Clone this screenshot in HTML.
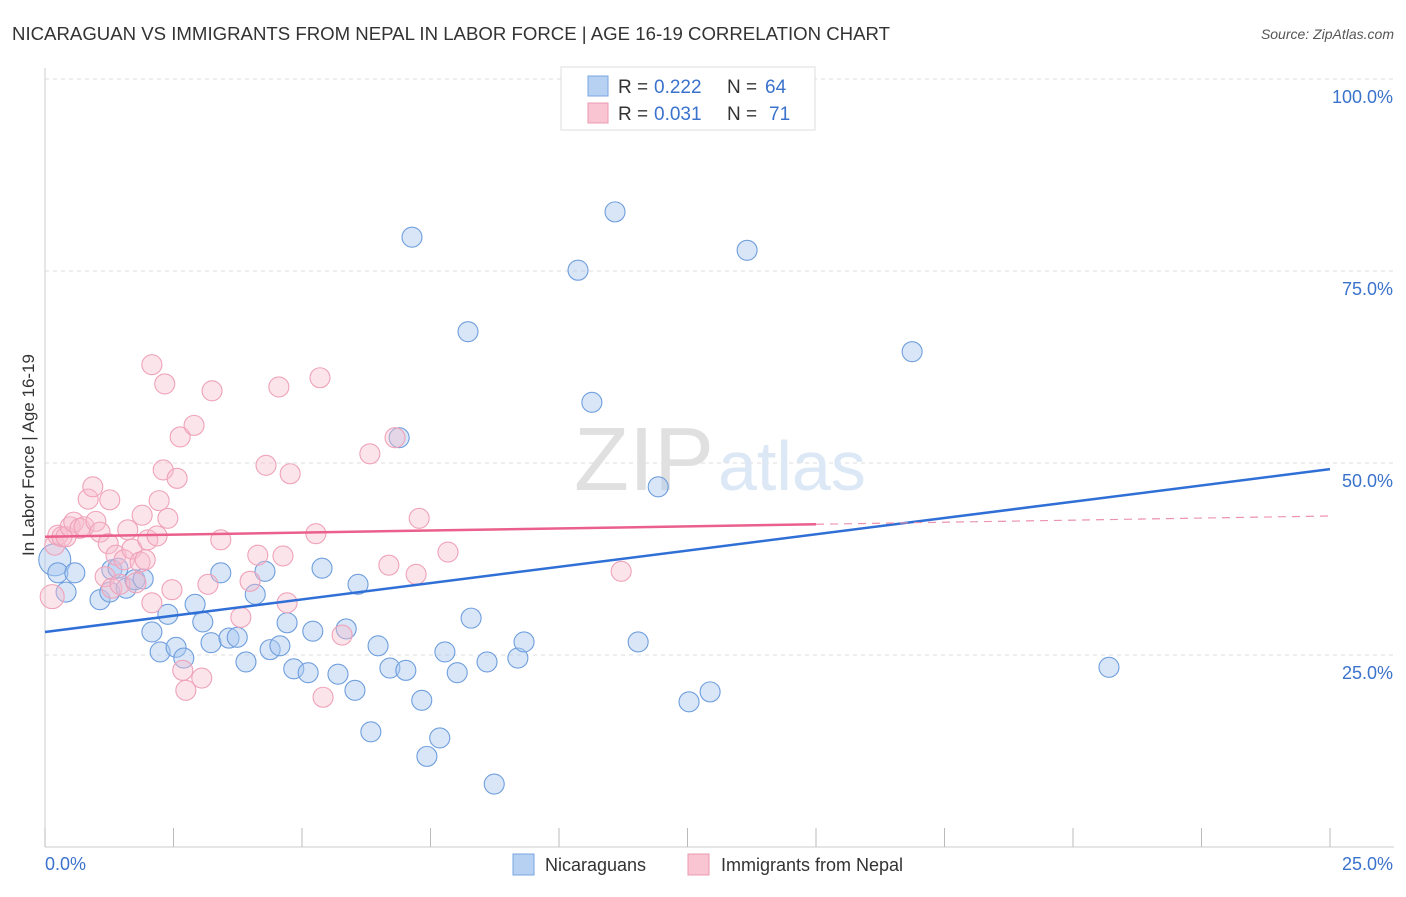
<!DOCTYPE html>
<html><head><meta charset="utf-8"><style>
body{margin:0;background:#fff;font-family:"Liberation Sans",sans-serif;}
svg text{font-family:"Liberation Sans",sans-serif;}
</style></head><body>
<svg width="1406" height="892" viewBox="0 0 1406 892">
<text x="12" y="40" font-size="18" fill="#333" textLength="878" lengthAdjust="spacingAndGlyphs">NICARAGUAN VS IMMIGRANTS FROM NEPAL IN LABOR FORCE | AGE 16-19 CORRELATION CHART</text>
<text x="1394" y="39" font-size="14" fill="#555" font-style="italic" text-anchor="end">Source: ZipAtlas.com</text>
<g id="grid"></g>
<text x="714" y="490" font-size="90" fill="#e0e0e0" text-anchor="end" font-family="Liberation Serif">ZIP</text>
<text x="718" y="490" font-size="70" fill="#dce8f6">atlas</text>
<g id="pts"></g>
<g id="lines"></g>
<text transform="translate(34,455) rotate(-90)" font-size="17" fill="#333" text-anchor="middle">In Labor Force | Age 16-19</text>
<g>
<rect x="561" y="67" width="254" height="63" fill="#fff" stroke="#ddd"/>
<rect x="588" y="76" width="20" height="20" fill="#b7d1f3" stroke="#7aa6e0"/>
<rect x="588" y="103" width="20" height="20" fill="#f9c5d3" stroke="#eb98b0"/>
<text x="618" y="93" font-size="19" fill="#333">R =</text>
<text x="654" y="93" font-size="19" fill="#3a72cc">0.222</text>
<text x="727" y="93" font-size="19" fill="#333">N =</text>
<text x="765" y="93" font-size="19" fill="#3a72cc">64</text>
<text x="618" y="120" font-size="19" fill="#333">R =</text>
<text x="654" y="120" font-size="19" fill="#3a72cc">0.031</text>
<text x="727" y="120" font-size="19" fill="#333">N =</text>
<text x="769" y="120" font-size="19" fill="#3a72cc">71</text>
</g>
<g>
<rect x="513" y="854" width="21" height="21" fill="#b7d1f3" stroke="#7aa6e0"/>
<text x="545" y="871" font-size="18" fill="#333">Nicaraguans</text>
<rect x="688" y="854" width="21" height="21" fill="#f9c5d3" stroke="#eb98b0"/>
<text x="721" y="871" font-size="18" fill="#333">Immigrants from Nepal</text>
</g>
</svg>
<script>
const xTicks=[0,2.5,5,7.5,10,12.5,15,17.5,20,22.5,25];
const yTicks=[25,50,75,100];
const yTickLabels=["25.0%","50.0%","75.0%","100.0%"];
const blueX=[0.19,0.25,0.41,0.58,1.07,1.26,1.30,1.42,1.58,1.75,1.91,2.08,2.24,2.39,2.55,2.70,2.92,3.07,3.23,3.42,3.58,3.74,3.91,4.09,4.28,4.38,4.57,4.71,4.84,5.12,5.21,5.39,5.70,5.86,6.03,6.09,6.34,6.48,6.71,6.89,7.02,7.14,7.33,7.43,7.68,7.78,8.02,8.23,8.29,8.60,9.20,9.32,10.37,10.64,11.09,11.54,11.93,12.53,12.94,13.66,16.87,20.70,8.74];
const blueY=[37.4,35.7,33.2,35.7,32.2,33.2,36.1,36.3,33.7,34.8,34.9,28.0,25.4,30.3,26.0,24.6,31.6,29.3,26.6,35.7,27.2,27.3,24.1,32.9,35.9,25.7,26.2,29.2,23.2,22.7,28.1,36.3,22.5,28.4,20.4,34.2,15.0,26.2,23.3,53.3,23.0,79.4,19.1,11.8,14.2,25.4,22.7,67.1,29.8,24.1,24.6,26.7,75.1,57.9,82.7,26.7,46.9,18.9,20.2,77.7,64.5,23.4,8.2];
const pinkX=[0.14,0.19,0.25,0.33,0.41,0.49,0.56,0.68,0.76,0.84,0.93,0.99,1.07,1.17,1.23,1.26,1.30,1.38,1.46,1.54,1.61,1.69,1.77,1.85,1.89,1.95,2.00,2.08,2.08,2.18,2.22,2.30,2.33,2.39,2.47,2.57,2.63,2.68,2.74,2.90,3.05,3.17,3.25,3.42,3.81,3.99,4.14,4.30,4.55,4.63,4.71,4.77,5.27,5.35,5.41,5.78,6.32,6.69,6.81,7.22,7.28,7.84,11.21];
const pinkY=[32.6,39.3,40.6,40.4,40.4,41.7,42.3,41.5,41.7,45.3,46.9,42.4,41.0,35.2,39.5,45.2,33.7,38.0,34.2,37.4,41.3,38.8,34.4,37.1,43.2,37.4,40.0,31.8,62.8,40.5,45.1,49.1,60.3,42.8,33.5,48.0,53.4,23.0,20.4,54.9,22.0,34.2,59.4,40.0,29.9,34.6,38.0,49.7,59.9,37.9,31.8,48.6,40.8,61.1,19.5,27.6,51.2,36.7,53.3,35.5,42.8,38.4,35.9];
const blueTrend=[28.0,49.2];
const pinkTrend=[40.4,43.1];
const pinkSolidEnd=15;
const NS="http://www.w3.org/2000/svg";
const sx=v=>45+v/25*1285, sy=v=>847-v/100*768;
function mk(t,a,p){const e=document.createElementNS(NS,t);for(const k in a)e.setAttribute(k,a[k]);p.appendChild(e);return e;}
const grid=document.getElementById('grid');
const ax=mk('line',{x1:45,y1:68,x2:45,y2:847,stroke:'#ccc'},grid);


const bx=mk('line',{x1:45,y1:847,x2:1394,y2:847,stroke:'#ccc'},grid);


yTicks.forEach((t,i)=>{
 const g=mk('line',{x1:45,y1:sy(t),x2:1394,y2:sy(t),stroke:'#ddd','stroke-dasharray':'4,4'},grid);
 
 
 const l=mk('text',{x:1393,y:sy(t)+24,'font-size':18,fill:'#3a72cc','text-anchor':'end'},grid);l.textContent=yTickLabels[i];
 
 
});
xTicks.forEach(t=>{
 const g=mk('line',{x1:sx(t),y1:828,x2:sx(t),y2:847,stroke:'#bbb'},grid);
 
 
});
const l0=mk('text',{x:45,y:870,'font-size':18,fill:'#3a72cc'},grid);l0.textContent='0.0%';


const l1=mk('text',{x:1393,y:870,'font-size':18,fill:'#3a72cc','text-anchor':'end'},grid);l1.textContent='25.0%';


const pts=document.getElementById('pts');
blueX.forEach((x,i)=>{
 const c=mk('circle',{cx:sx(x),cy:sy(blueY[i]),r:i==0?16:10,fill:'rgba(168,200,240,0.45)',stroke:'#6f9edd','stroke-width':1.1},pts);
 
 
});
pinkX.forEach((x,i)=>{
 const c=mk('circle',{cx:sx(x),cy:sy(pinkY[i]),r:i==0?12:10,fill:'rgba(248,188,206,0.4)',stroke:'#efa2b9','stroke-width':1.1},pts);
 
 
});
const ln=document.getElementById('lines');
const b=mk('line',{x1:sx(0),y1:sy(blueTrend[0]),x2:sx(25),y2:sy(blueTrend[1]),stroke:'#2f6fd6','stroke-width':2.5},ln);


const pm=pinkTrend[0]+(pinkTrend[1]-pinkTrend[0])*pinkSolidEnd/25;
const p1=mk('line',{x1:sx(0),y1:sy(pinkTrend[0]),x2:sx(pinkSolidEnd),y2:sy(pm),stroke:'#ea5f8c','stroke-width':2.5},ln);


const p2=mk('line',{x1:sx(pinkSolidEnd),y1:sy(pm),x2:sx(25),y2:sy(pinkTrend[1]),stroke:'#ec93ae','stroke-width':1.2,'stroke-dasharray':'8,6'},ln);


</script>
</body></html>
